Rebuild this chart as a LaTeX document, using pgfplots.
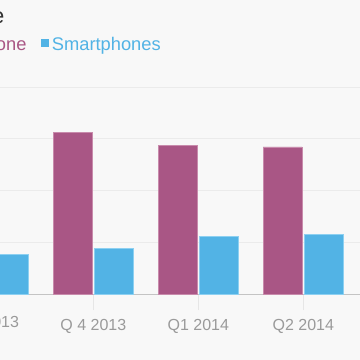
\documentclass[border=0pt]{standalone}
\usepackage{fontspec}
\setmainfont{Liberation Sans}
\usepackage{pgfplots}
\pgfplotsset{compat=1.18}
\definecolor{bg}{HTML}{F8F8F8}
\definecolor{mag}{HTML}{A95685}
\definecolor{magedge}{HTML}{C88BAC}
\definecolor{blu}{HTML}{52B3E5}
\definecolor{bluedge}{HTML}{8DD0F1}
\definecolor{gridc}{HTML}{EBEBEB}
\definecolor{basec}{HTML}{C4C4C4}
\definecolor{tickc}{HTML}{E6E6E6}
\definecolor{labc}{HTML}{9A9A9A}
\definecolor{titlec}{HTML}{333333}
\begin{document}
\begin{tikzpicture}
\useasboundingbox (0,0) rectangle (360pt,360pt);
\fill[bg] (0,0) rectangle (360pt,360pt);
\clip (0,0) rectangle (360pt,360pt);
\begin{axis}[
  scale only axis,
  width=360pt, height=207pt,
  at={(0pt,66pt)}, anchor=south west,
  xmin=0.111, xmax=3.540,
  ymin=0, ymax=4,
  enlargelimits=false,
  clip=false,
  axis x line*=bottom,
  axis y line*=left,
  y axis line style={draw=none},
  x axis line style={draw=basec, line width=1pt, -},
  xtick={1,2,3},
  xticklabels={Q 4 2013, Q1 2014, Q2 2014},
  xtick align=outside,
  major tick length=16pt,
  x tick style={draw=tickc, line width=0.8pt},
  y tick style={draw=none},
  ytick={1,2,3,4},
  yticklabels={},
  ymajorgrids,
  grid style={draw=gridc, line width=1pt},
  xticklabel style={font=\fontsize{16}{18}\selectfont, text=labc, anchor=base, yshift=-20pt},
  ybar=2.4pt,
  bar width=39pt,
]
\addplot[fill=mag, draw=magedge, line width=0.7pt] coordinates {(1,3.125) (2,2.873) (3,2.841)};
\addplot[fill=blu, draw=bluedge, line width=0.7pt] coordinates {(0,0.759) (1,0.883) (2,1.115) (3,1.159)};
\node[anchor=base, inner sep=0, text=labc, font=\fontsize{16}{18}\selectfont, yshift=-34pt] at (axis cs:0,0) {Q3 2013};
\end{axis}
\node[anchor=base east, inner sep=0, text=titlec, font=\fontsize{22}{26}\selectfont] at (4.5pt,336.7pt) {Market share};
\node[anchor=base east, inner sep=0, text=mag, font=\fontsize{18.3}{22}\selectfont] at (26.7pt,309.3pt) {iPhone};
\fill[blu] (40.7pt,312.7pt) rectangle (49.3pt,321pt);
\node[anchor=base west, inner sep=0, text=blu, font=\fontsize{18.3}{22}\selectfont] at (51.7pt,309.3pt) {Smartphones};
\end{tikzpicture}
\end{document}
